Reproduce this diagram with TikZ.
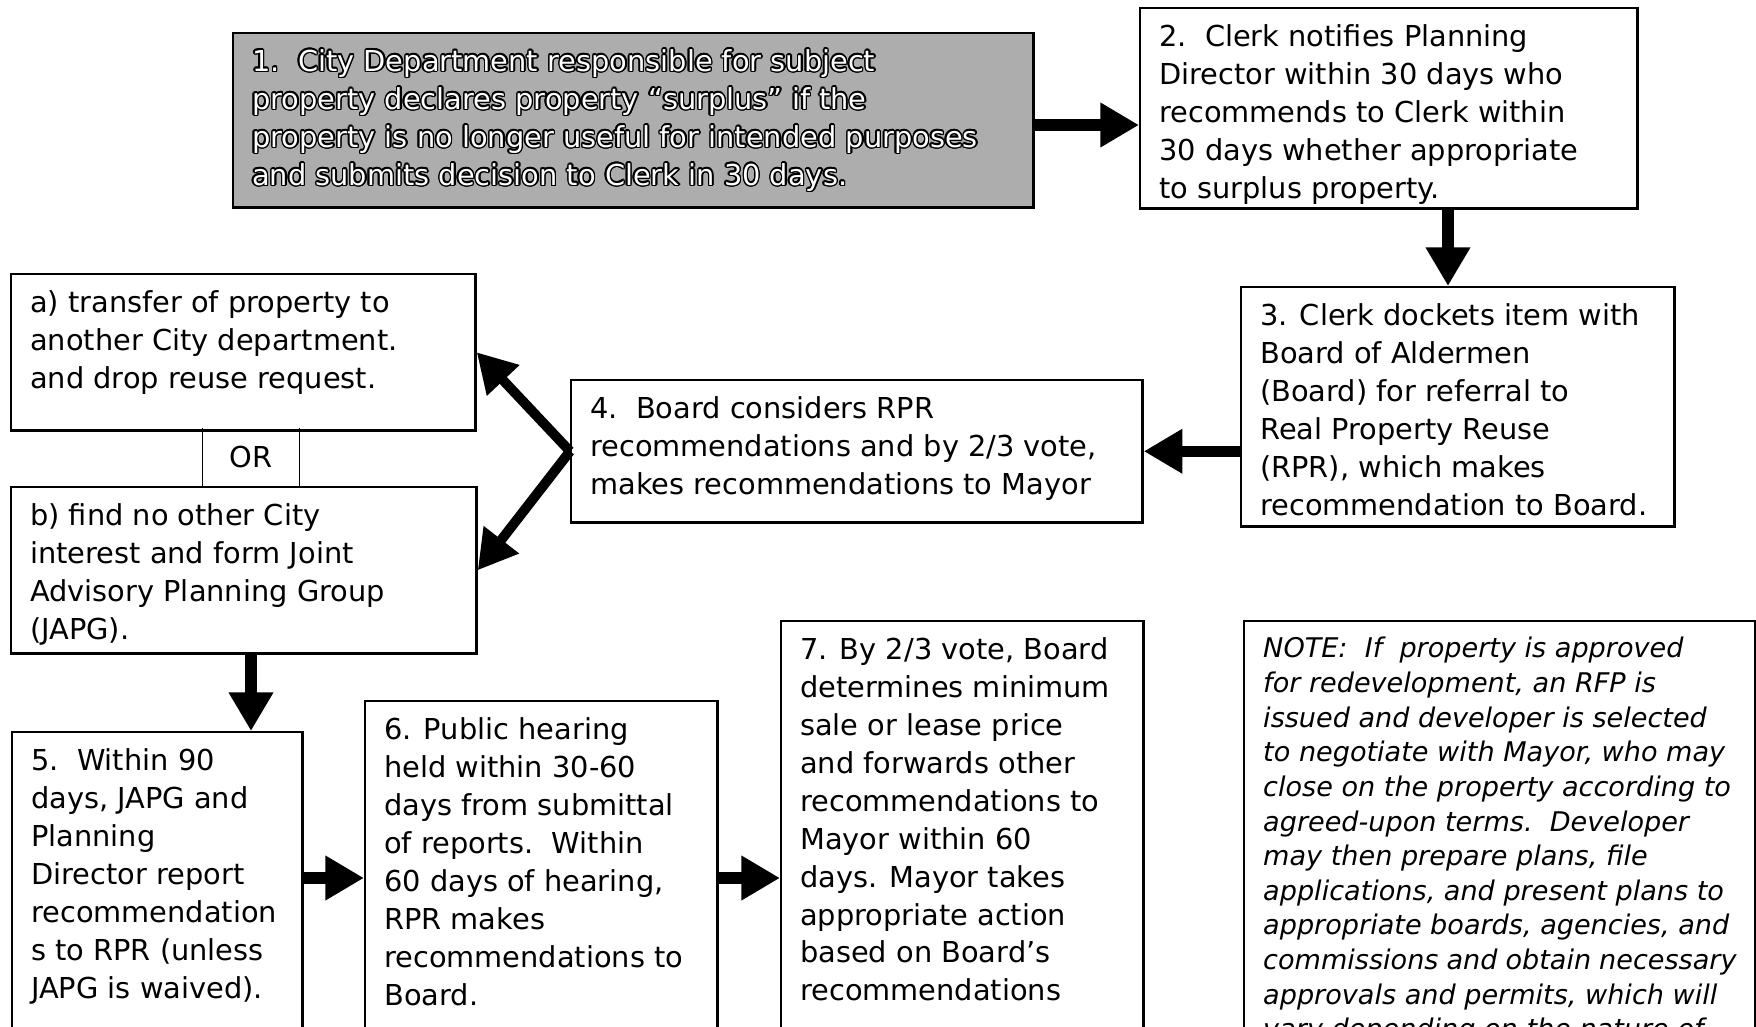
\documentclass[tikz,border=0pt]{standalone}
\usepackage{fontspec}
\setmainfont{DejaVu Sans}
\usepackage{contour}
\contourlength{0.4pt}
\usetikzlibrary{arrows.meta,positioning}

% fixed size text block, text starts at the top
\newcommand{\boxbody}[3]{\parbox[c][#2][t]{#1}{\raggedright #3}}

\begin{document}
\begin{tikzpicture}[x=0.01cm, y=-0.01cm,
  >={Triangle[length=11pt,width=12pt]},
  stepbox/.style={draw, line width=0.7pt, anchor=north west, inner xsep=0.19cm, inner ysep=0.16cm,
    font=\fontsize{8.2pt}{10.8pt}\selectfont},
  notebox/.style={stepbox, font=\fontsize{7.7pt}{9.85pt}\selectfont\itshape},
  flow/.style={->, line width=3.2pt},
  split/.style={->, line width=2.8pt}]

  \useasboundingbox (0,0) rectangle (1756,1027);
  \clip (0,0) rectangle (1756,1027);

  \node[stepbox, fill=black!32, text=white] (s1) at (232,32) {\boxbody{7.62cm}{1.42cm}{%
    \contour{black}{1.\ \ City Department responsible for subject}\\
    \contour{black}{property declares property “surplus” if the}\\
    \contour{black}{property is no longer useful for intended purposes}\\
    \contour{black}{and submits decision to Clerk in 30 days.}}};
  \node[stepbox] (s2) at (1139,7) {\boxbody{4.59cm}{1.68cm}{%
    2.\ \ Clerk notifies Planning\\ Director within 30 days who\\ recommends to Clerk within\\
    30 days whether appropriate\\ to surplus property.}};
  \node[stepbox] (s3) at (1240,286) {\boxbody{3.95cm}{2.07cm}{%
    3. Clerk dockets item with\\ Board of Aldermen\\ (Board) for referral to\\
    Real Property Reuse\\ (RPR), which makes\\ recommendation to Board.}};
  \node[stepbox] (s4) at (570,379) {\boxbody{5.33cm}{1.10cm}{%
    4.\ \ Board considers RPR\\ recommendations and by 2/3 vote,\\ makes recommendations to Mayor}};
  \node[stepbox] (opta) at (10,273) {\boxbody{4.26cm}{1.24cm}{%
    a) transfer of property to\\ another City department.\\ and drop reuse request.}};
  \node[stepbox] (optb) at (10,486) {\boxbody{4.27cm}{1.34cm}{%
    b) find no other City\\ interest and form Joint\\ Advisory Planning Group\\ (JAPG).}};
  \node[minimum width=0.96cm, minimum height=0.57cm, inner sep=0pt,
    font=\fontsize{8.2pt}{10.8pt}\selectfont] (orbox) at (251,457) {OR};
  \node[stepbox] (s5) at (11,731) {\boxbody{2.52cm}{3.68cm}{%
    5.\ \ Within 90\\ days, JAPG and\\ Planning\\ Director report\\ recommendation\\
    s to RPR (unless\\ JAPG is waived).}};
  \node[stepbox] (s6) at (364,700) {\boxbody{3.14cm}{3.68cm}{%
    6. Public hearing\\ held within 30-60\\ days from submittal\\ of reports.\ \ Within\\
    60 days of hearing,\\ RPR makes\\ recommendations to\\ Board.}};
  \node[stepbox] (s7) at (780,620) {\boxbody{3.24cm}{4.68cm}{%
    7. By 2/3 vote, Board\\ determines minimum\\ sale or lease price\\ and forwards other\\
    recommendations to\\ Mayor within 60\\ days. Mayor takes\\ appropriate action\\
    based on Board's\\ recommendations}};
  \node[notebox] (note) at (1243,620) {\boxbody{4.73cm}{4.68cm}{%
    NOTE:\ \ If\ \ property is approved\\ for redevelopment, an RFP is\\
    issued and developer is selected\\ to negotiate with Mayor, who may\\
    close on the property according to\\ agreed-upon terms.\ \ Developer\\
    may then prepare plans, file\\ applications, and present plans to\\
    appropriate boards, agencies, and\\ commissions and obtain necessary\\
    approvals and permits, which will\\ vary depending on the nature of}};

  \coordinate (row) at (0,878);
  \coordinate (top) at (0,125);
  \coordinate (down) at (1448,0);
  \coordinate (drop) at (251,0);

  \draw[line width=0.4pt] (orbox.north west) -- (orbox.south west)
    (orbox.north east) -- (orbox.south east);

  \draw[flow] (s1.east |- top) -- (s2.west |- top);
  \draw[flow] (s2.south -| down) -- (s3.north -| down);
  \draw[flow] (s4.east -| s3.west) -- (s4.east);
  \draw[split] (s4.west) -- (opta.east);
  \draw[split] (s4.west) -- (optb.east);
  \draw[flow] (optb.south -| drop) -- (s5.north -| drop);
  \draw[flow] (s5.east |- row) -- (s6.west |- row);
  \draw[flow] (s6.east |- row) -- (s7.west |- row);

\end{tikzpicture}
\end{document}
